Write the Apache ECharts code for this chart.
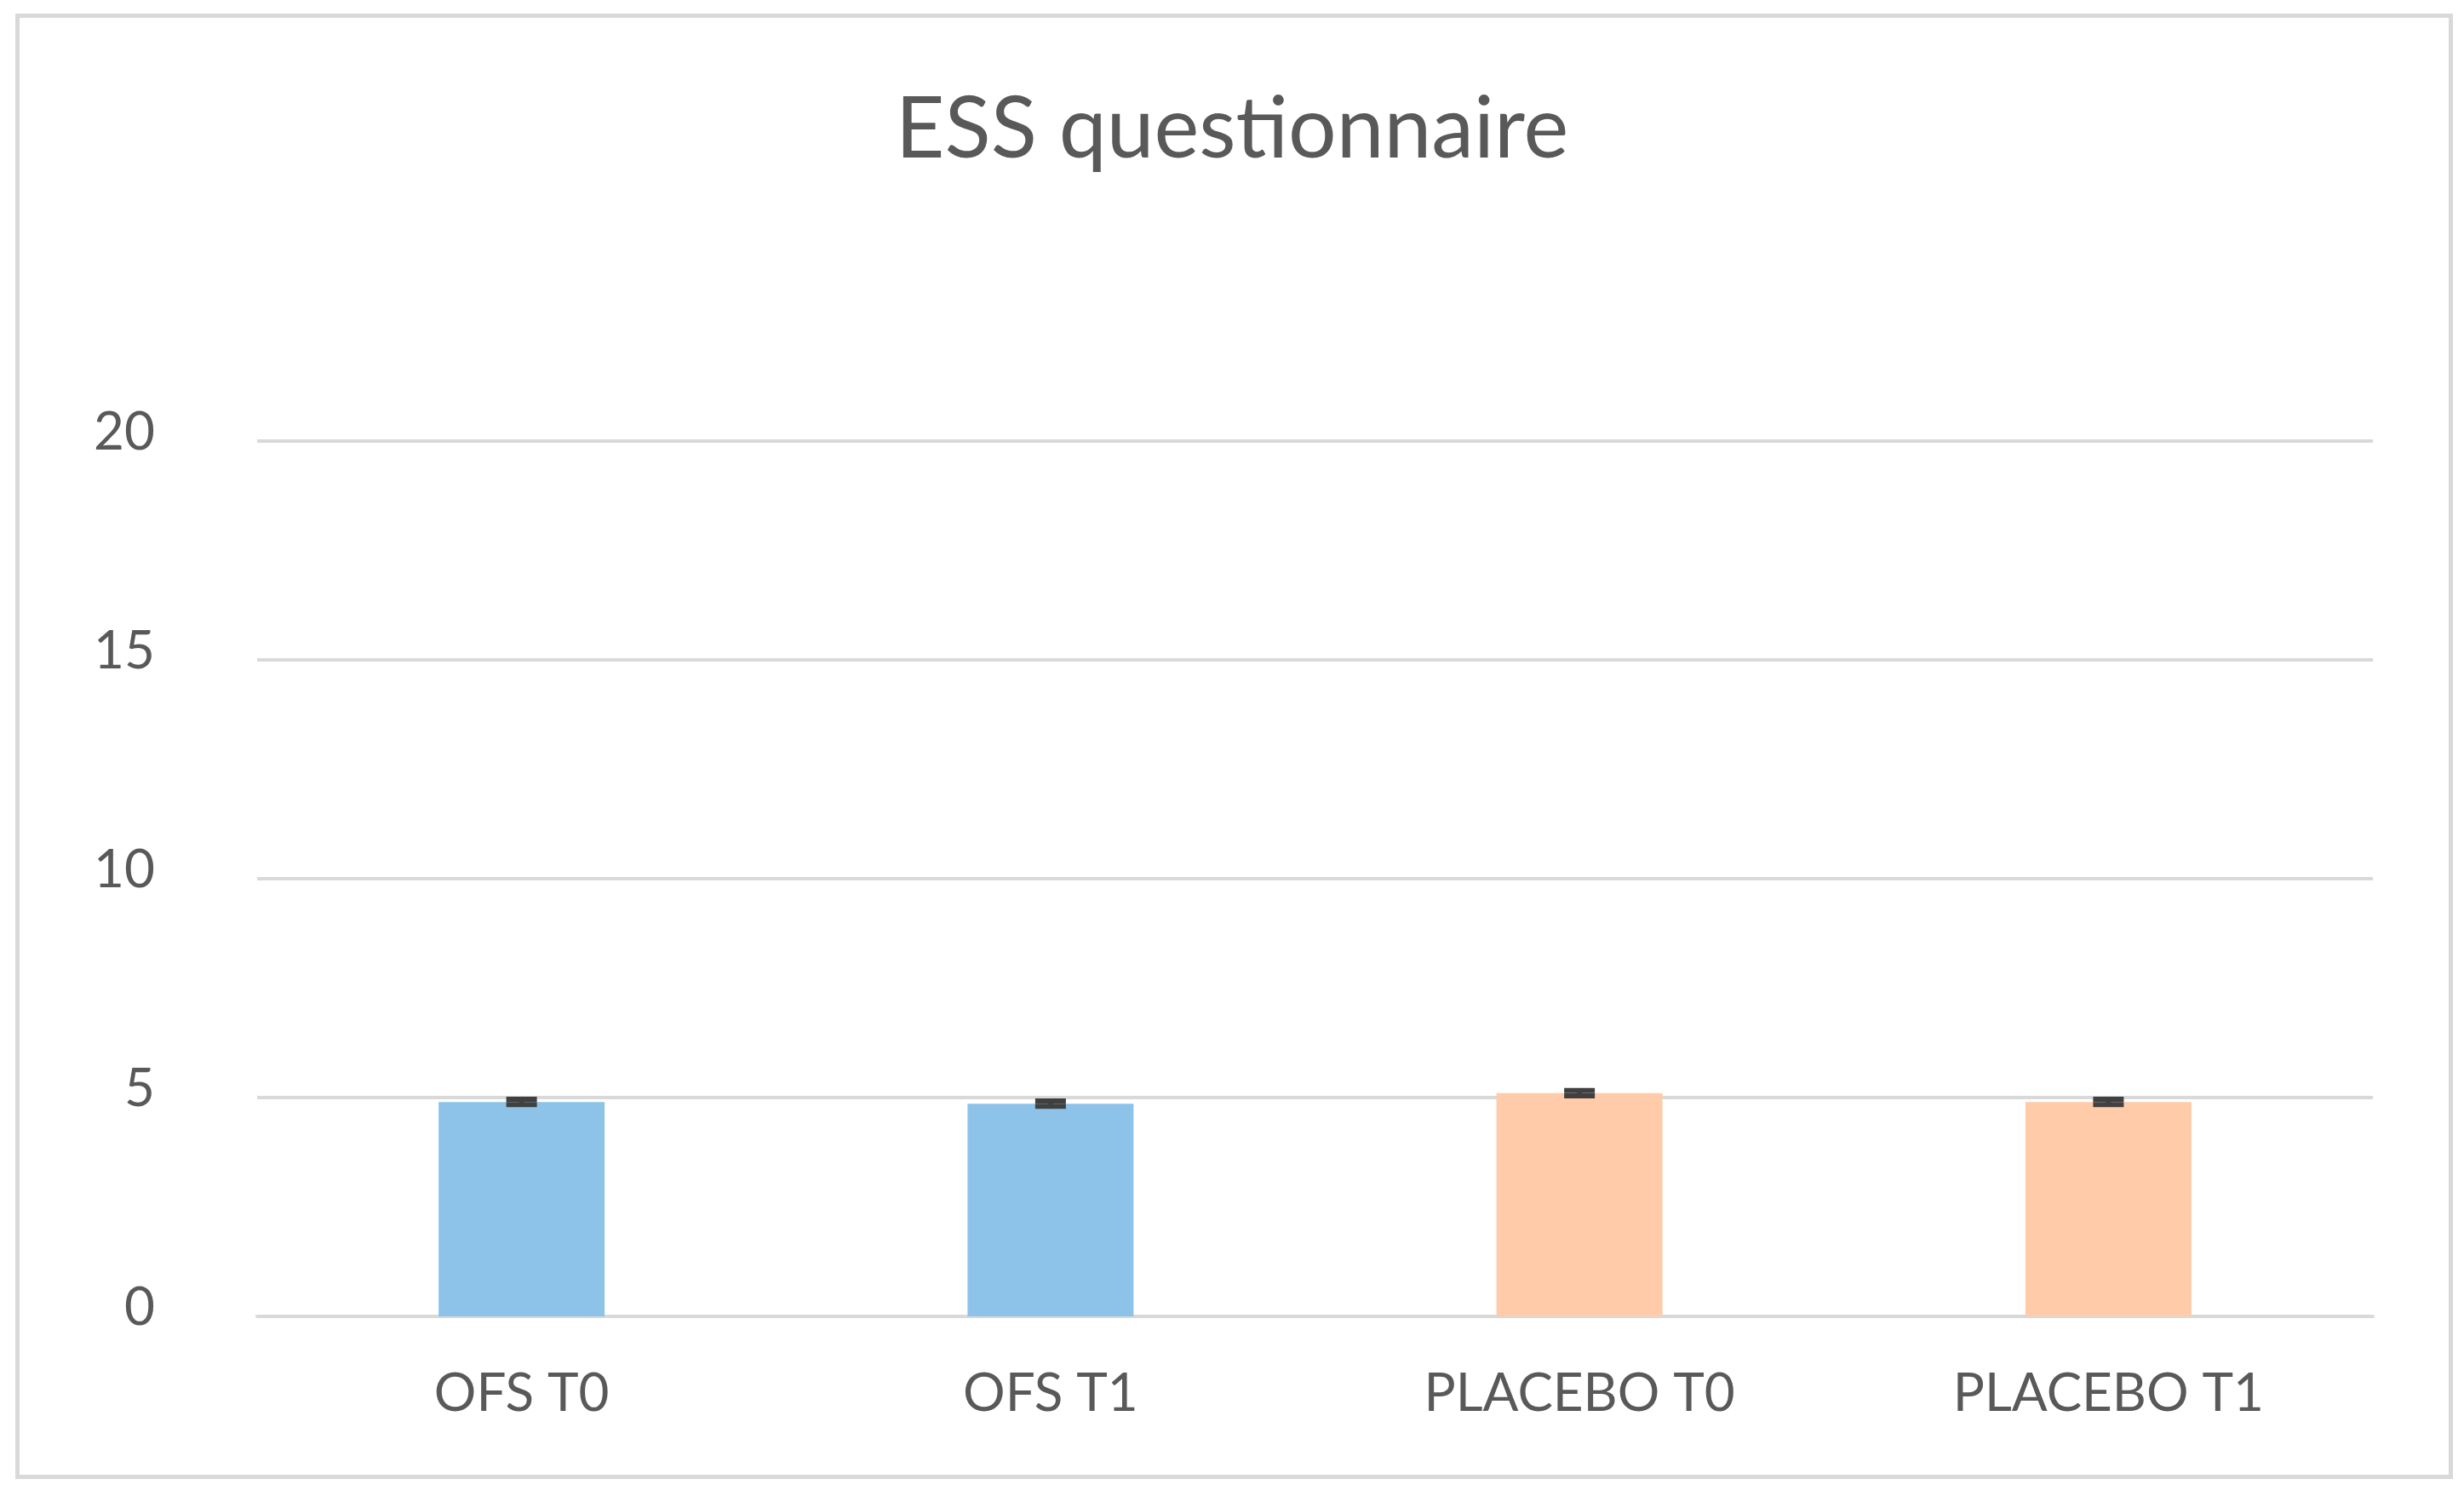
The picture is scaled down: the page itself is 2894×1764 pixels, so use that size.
<!DOCTYPE html>
<html>
<head>
<meta charset="utf-8">
<script src="https://cdn.jsdelivr.net/npm/echarts@6/dist/echarts.min.js"></script>
<style>
  html, body { margin: 0; padding: 0; background: #ffffff; }
  #chart { width: 2894px; height: 1764px; }
</style>
</head>
<body>
<div id="chart"></div>
<script>
// ---- data ----
const categories = ['OFS T0', 'OFS T1', 'PLACEBO T0', 'PLACEBO T1'];
const groups = ['OFS', 'OFS', 'PLACEBO', 'PLACEBO'];
const means = [4.9, 4.86, 5.1, 4.9];
const errors = [0.06, 0.06, 0.06, 0.06];
const yTicks = [0, 5, 10, 15, 20];

// ---- styling ----
const groupColors = { OFS: '#8DC3E8', PLACEBO: '#FFCBA9' };
const FONT = 'Lato';
const TEXT = '#595959';
const GRID = '#D9D9D9';

const chart = echarts.init(document.getElementById('chart'), null, { renderer: 'canvas' });

const barData = means.map((v, i) => ({
  value: v,
  itemStyle: { color: groupColors[groups[i]] }
}));
const errData = means.map((v, i) => [i, v - errors[i], v + errors[i]]);

chart.setOption({
  backgroundColor: '#ffffff',
  animation: false,
  title: {
    text: 'ESS questionnaire',
    left: 'center',
    top: 98,
    textStyle: { fontFamily: FONT, fontSize: 100, fontWeight: 'normal', color: TEXT }
  },
  graphic: [{
    type: 'rect',
    left: 18, top: 16,
    shape: { width: 2858, height: 1716 },
    style: { fill: 'none', stroke: GRID, lineWidth: 5 },
    silent: true
  }],
  grid: { left: 302, right: 107, top: 518, bottom: 218, containLabel: false },
  xAxis: {
    type: 'category',
    data: categories,
    axisLine: { show: true, lineStyle: { color: GRID, width: 4 } },
    axisTick: { show: false },
    axisLabel: { margin: 60, fontFamily: FONT, fontSize: 62, color: TEXT }
  },
  yAxis: {
    type: 'value',
    min: yTicks[0],
    max: yTicks[yTicks.length - 1],
    interval: yTicks[1] - yTicks[0],
    axisLine: { show: false },
    axisTick: { show: false },
    splitLine: { lineStyle: { color: GRID, width: 4 } },
    axisLabel: {
      margin: 120, fontFamily: FONT, fontSize: 62, color: TEXT,
      verticalAlign: 'bottom', lineHeight: 20
    }
  },
  series: [
    {
      type: 'bar',
      data: barData,
      barWidth: 195
    },
    {
      type: 'custom',
      data: errData,
      z: 10,
      renderItem: function (params, api) {
        const x = api.value(0);
        const lo = api.coord([x, api.value(1)]);
        const hi = api.coord([x, api.value(2)]);
        const half = 18;
        const style = { stroke: '#404040', lineWidth: 6, fill: 'none' };
        return {
          type: 'group',
          children: [
            { type: 'line', shape: { x1: lo[0], y1: lo[1], x2: hi[0], y2: hi[1] }, style: style },
            { type: 'line', shape: { x1: lo[0] - half, y1: lo[1], x2: lo[0] + half, y2: lo[1] }, style: style },
            { type: 'line', shape: { x1: hi[0] - half, y1: hi[1], x2: hi[0] + half, y2: hi[1] }, style: style }
          ]
        };
      }
    }
  ]
});
</script>
</body>
</html>
